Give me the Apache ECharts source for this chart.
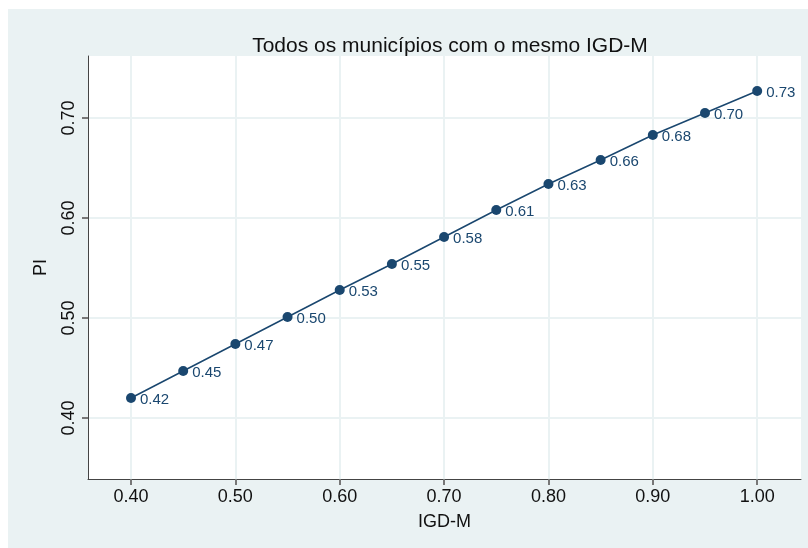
<!DOCTYPE html>
<html>
<head>
<meta charset="utf-8">
<script src="https://cdn.jsdelivr.net/npm/echarts@6/dist/echarts.min.js"></script>
<style>
  html, body { margin: 0; padding: 0; background: #fff; }
  #main { width: 808px; height: 548px; }
</style>
</head>
<body>
<div id="main"></div>
<script>
// IGD-M vs PI
const igdm = [0.40, 0.45, 0.50, 0.55, 0.60, 0.65, 0.70, 0.75, 0.80, 0.85, 0.90, 0.95, 1.00]
const pi = [0.420, 0.447, 0.474, 0.501, 0.528, 0.554, 0.581, 0.608, 0.634, 0.658, 0.683, 0.705, 0.727]
const xTicks = [0.4, 0.5, 0.6, 0.7, 0.8, 0.9, 1.0]
const yTicks = [0.4, 0.5, 0.6, 0.7]

const navy = '#1a476f'
const font = 'Arial, "Liberation Sans", sans-serif'

const chart = echarts.init(document.getElementById('main'))

chart.setOption({
  backgroundColor: '#fff',
  animation: false,
  graphic: [{
    type: 'rect',
    z: -10,
    shape: { x: 8, y: 9, width: 800, height: 539 },
    style: { fill: '#eaf2f3' }
  }],
  title: {
    text: 'Todos os municípios com o mesmo IGD-M',
    left: 445,
    textAlign: 'center',
    top: 31,
    textStyle: { fontFamily: font, fontSize: 21, fontWeight: 'normal', color: '#111' }
  },
  grid: {
    left: 88, right: 7, top: 56, bottom: 69,
    show: true, backgroundColor: '#fff', borderWidth: 0
  },
  xAxis: {
    type: 'value',
    min: 0.3588, max: 1.042,
    name: 'IGD-M',
    nameLocation: 'middle',
    nameGap: 34,
    nameTextStyle: { fontFamily: font, fontSize: 18, color: '#111' },
    axisLine: { show: true, lineStyle: { color: '#444', width: 1 } },
    axisTick: { show: true, customValues: xTicks, length: 6, lineStyle: { color: '#777', width: 2 } },
    axisLabel: {
      customValues: xTicks, margin: 9,
      fontFamily: font, fontSize: 18, color: '#111',
      formatter: v => v.toFixed(2)
    },
    splitLine: { show: true, lineStyle: { color: '#eaf2f3', width: 2 } }
  },
  yAxis: {
    type: 'value',
    min: 0.339, max: 0.762,
    name: 'PI',
    nameLocation: 'middle',
    nameGap: 38,
    nameRotate: 90,
    nameTextStyle: { fontFamily: font, fontSize: 18, color: '#111' },
    axisLine: { show: true, lineStyle: { color: '#444', width: 1 } },
    axisTick: { show: true, customValues: yTicks, length: 6, lineStyle: { color: '#777', width: 2 } },
    axisLabel: {
      customValues: yTicks, rotate: 90, margin: 10,
      fontFamily: font, fontSize: 18, color: '#111',
      formatter: v => v.toFixed(2)
    },
    splitLine: { show: true, lineStyle: { color: '#eaf2f3', width: 2 } }
  },
  series: [{
    type: 'line',
    data: igdm.map((x, i) => [x, pi[i]]),
    symbol: 'circle',
    symbolSize: 10,
    itemStyle: { color: navy },
    lineStyle: { color: navy, width: 1.5 },
    label: {
      show: true,
      position: 'right',
      distance: 4,
      offset: [0, 2],
      fontFamily: font, fontSize: 15, color: navy,
      formatter: p => p.value[1].toFixed(2)
    }
  }]
})
</script>
</body>
</html>
